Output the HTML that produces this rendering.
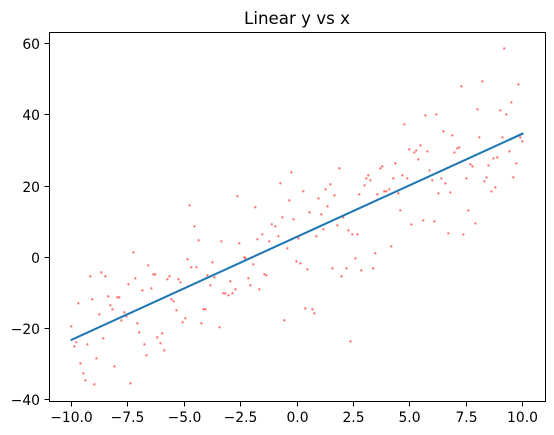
<!DOCTYPE html>
<html lang="en">
<head>
<meta charset="utf-8">
<title>Linear y vs x</title>
<style>
html,body{margin:0;padding:0;background:#fff;}
svg{display:block;}
text{font-family:"DejaVu Sans","Liberation Sans",sans-serif;fill:#000;}
</style>
</head>
<body>
<svg id="chart" xmlns="http://www.w3.org/2000/svg" width="554" height="435" viewBox="0 0 554 435"></svg>
<script>
const xTickValues = [-10, -7.5, -5, -2.5, 0, 2.5, 5, 7.5, 10];
const xTickLabels = ["\u221210.0", "\u22127.5", "\u22125.0", "\u22122.5", "0.0", "2.5", "5.0", "7.5", "10.0"];
const yTickValues = [-40, -20, 0, 20, 40, 60];
const yTickLabels = ["\u221240", "\u221220", "0", "20", "40", "60"];
const chartTitle = "Linear y vs x";
const lineX = [-10, 10];
const lineY = [-23.2, 34.7];
const pointX = [
-10.01,-9.88,-9.79,-9.70,-9.61,-9.48,-9.39,-9.30,-9.17,-9.08,-8.99,-8.90,-8.77,-8.68,-8.59,-8.50,-8.37,-8.28,-8.19,-8.10,
-7.97,-7.88,-7.79,-7.66,-7.57,-7.48,-7.39,-7.26,-7.17,-7.08,-7.00,-6.86,-6.77,-6.68,-6.60,-6.46,-6.37,-6.29,-6.20,-6.06,
-5.98,-5.89,-5.75,-5.66,-5.57,-5.48,-5.35,-5.26,-5.17,-5.08,-4.95,-4.86,-4.77,-4.69,-4.55,-4.46,-4.37,-4.24,-4.15,-4.06,
-3.98,-3.84,-3.75,-3.67,-3.44,-3.36,-3.27,-3.18,-3.04,-2.96,-2.87,-2.73,-2.65,-2.56,-2.34,-2.29,-2.16,-2.07,-1.94,-1.85,
-1.76,-1.67,-1.54,-1.45,-1.36,-1.23,-1.12,-0.96,-0.83,-0.74,-0.65,-0.56,-0.43,-0.34,-0.25,-0.16,-0.03,0.06,0.15,0.28,
0.37,0.46,0.55,0.68,0.77,0.86,0.95,1.08,1.17,1.26,1.35,1.48,1.57,1.66,1.79,1.88,1.97,2.05,2.19,2.28,
2.37,2.45,2.59,2.68,2.76,2.85,2.99,3.07,3.16,3.25,3.38,3.47,3.56,3.70,3.78,3.87,3.96,4.09,4.18,4.27,
4.36,4.49,4.58,4.67,4.76,4.89,4.98,5.07,5.20,5.29,5.38,5.47,5.60,5.69,5.78,5.87,6.00,6.09,6.18,6.27,
6.40,6.49,6.58,6.71,6.80,6.89,6.98,7.11,7.20,7.29,7.38,7.51,7.60,7.69,7.78,7.91,8.00,8.09,8.22,8.31,
8.40,8.49,8.62,8.71,8.80,8.88,9.02,9.11,9.19,9.28,9.42,9.51,9.59,9.73,9.82,9.90,9.99
];
const pointY = [
-19.42,-25.04,-23.90,-12.96,-29.81,-32.62,-34.59,-24.48,-5.38,-11.84,-35.71,-28.41,-16.05,-4.25,-22.79,-5.38,-10.99,-13.52,-14.64,-30.66,
-11.27,-11.27,-17.73,-15.49,-16.61,-7.62,-35.43,1.37,-5.94,-18.58,-21.10,-9.31,-24.48,-27.57,-2.29,-8.75,-4.81,-4.81,-22.51,-24.20,
-21.39,-26.16,-6.22,-5.38,-11.81,-12.37,-14.90,-6.19,-7.04,-18.27,-17.15,-0.57,14.59,-2.82,8.69,-2.82,4.76,-18.55,-14.62,-14.62,
-5.07,-7.88,-1.42,-5.63,-19.68,4.48,-10.13,-10.13,-10.69,-6.75,-10.13,-9.00,17.12,3.92,-0.01,-0.29,-5.91,-7.88,-1.98,14.03,
5.04,-9.00,6.45,-4.79,-5.07,4.48,9.26,8.69,5.89,20.77,11.22,-17.71,2.51,15.99,23.84,10.64,-1.16,5.30,-1.72,18.50,
-14.36,-3.40,12.60,-14.64,-15.77,5.86,16.54,12.04,7.83,19.07,14.29,20.47,-3.12,17.38,8.95,24.96,-5.37,11.20,-3.12,7.55,
-23.63,6.43,-0.32,6.43,17.66,-3.69,20.19,22.16,23.00,21.59,-3.12,1.09,17.66,24.96,25.53,18.50,18.50,19.07,3.06,22.16,
26.37,17.94,13.17,23.00,37.30,22.16,30.30,9.22,29.45,30.00,27.48,31.41,10.34,39.84,29.73,24.39,21.58,10.06,40.12,17.93,
22.14,35.35,20.74,6.69,18.21,34.22,29.45,30.57,30.85,47.99,6.41,22.14,13.15,26.08,25.51,9.50,41.53,33.66,49.39,21.30,
22.42,25.79,18.49,27.76,19.62,28.04,41.24,33.66,58.66,40.12,29.73,43.49,22.42,26.36,48.55,33.66,32.54
];

const NS = "http://www.w3.org/2000/svg";
const svg = document.getElementById("chart");
const plotLeft = 49.5, plotRight = 545.5, plotTop = 32.5, plotBottom = 401.5;
const xMin = -10.98, xMax = 11.02, yMin = -40.53, yMax = 63.12;
function xScale(v) { return plotLeft + (v - xMin) / (xMax - xMin) * (plotRight - plotLeft); }
function yScale(v) { return plotBottom - (v - yMin) / (yMax - yMin) * (plotBottom - plotTop); }
function make(tag, attrs, parent) {
  const el = document.createElementNS(NS, tag);
  for (const k in attrs) el.setAttribute(k, attrs[k]);
  parent.appendChild(el);
  return el;
}
function snap(p) { return Math.floor(p) + 0.5; }

const background = make("rect", {x: plotLeft, y: plotTop, width: plotRight - plotLeft, height: plotBottom - plotTop, fill: "#fff"}, svg);



const scatterGroup = make("g", {fill: "#ff0000", "fill-opacity": "0.45", stroke: "#ff0000", "stroke-opacity": "0.35", "stroke-width": "1.2"}, svg);


pointX.forEach(function (px, i) {
  const dot = make("circle", {cx: xScale(px).toFixed(2), cy: yScale(pointY[i]).toFixed(2), r: 0.7}, scatterGroup);
  
  
});

const fitLine = make("polyline", {
  points: lineX.map(function (v, i) { return xScale(v).toFixed(2) + "," + yScale(lineY[i]).toFixed(2); }).join(" "),
  fill: "none", stroke: "#1f77b4", "stroke-width": 2.08, "stroke-linecap": "square"
}, svg);



const frame = make("rect", {x: plotLeft, y: plotTop, width: plotRight - plotLeft, height: plotBottom - plotTop, fill: "none", stroke: "#000", "stroke-width": 1.11, "shape-rendering": "crispEdges"}, svg);



const xAxis = make("g", {}, svg);


xTickValues.forEach(function (v, i) {
  const p = snap(xScale(v));
  const tick = make("line", {x1: p, x2: p, y1: plotBottom, y2: plotBottom + 5, stroke: "#000", "stroke-width": 1, "shape-rendering": "crispEdges"}, xAxis);
  
  
  const label = make("text", {x: p, y: plotBottom + 20.5, "text-anchor": "middle", "font-size": "13.89"}, xAxis);
  label.textContent = xTickLabels[i];
  
  
});

const yAxis = make("g", {}, svg);


yTickValues.forEach(function (v, i) {
  const p = snap(yScale(v));
  const tick = make("line", {x1: plotLeft - 5, x2: plotLeft, y1: p, y2: p, stroke: "#000", "stroke-width": 1, "shape-rendering": "crispEdges"}, yAxis);
  
  
  const label = make("text", {x: plotLeft - 9.5, y: p + 5.5, "text-anchor": "end", "font-size": "13.89"}, yAxis);
  label.textContent = yTickLabels[i];
  
  
});

const title = make("text", {x: 297, y: 24, "text-anchor": "middle", "font-size": "16.67"}, svg);
title.textContent = chartTitle;


</script>
</body>
</html>
